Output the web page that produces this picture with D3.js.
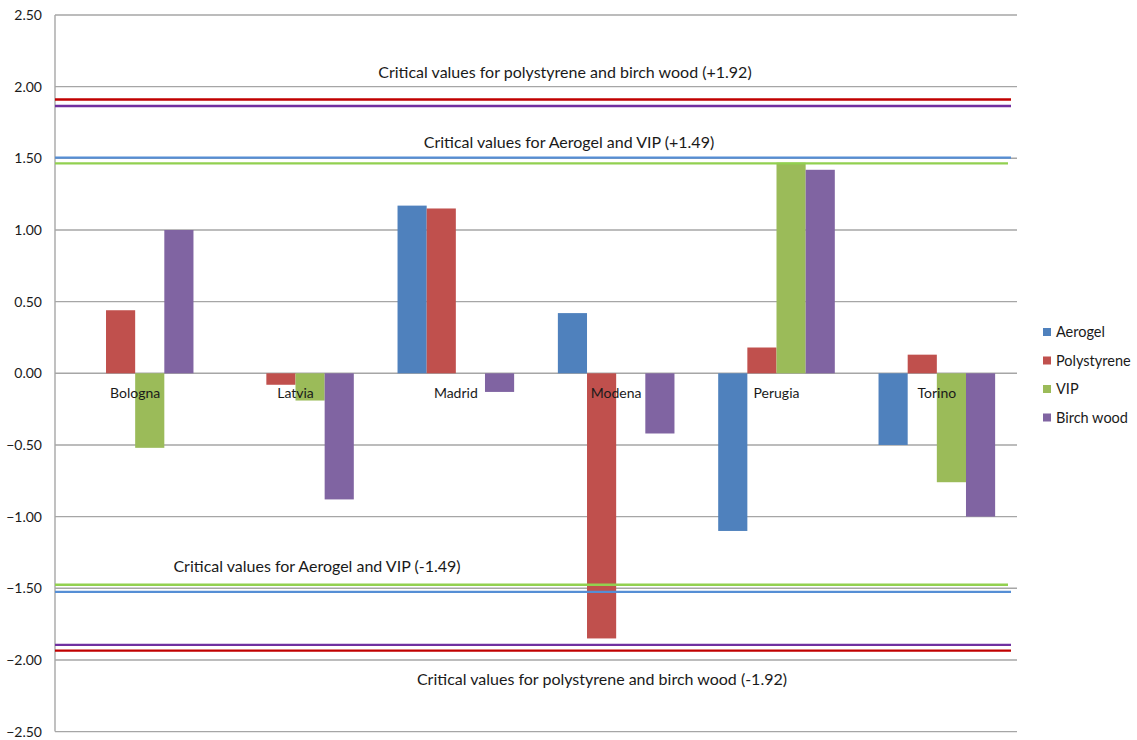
<!DOCTYPE html>
<html>
<head>
<meta charset="utf-8">
<script src="https://cdn.jsdelivr.net/npm/d3@7"></script>
<style>
  body { margin: 0; background: #fff; }
  svg text { font-family: Lato, "Open Sans", sans-serif; fill: #1a1a1a; }
</style>
</head>
<body>
<svg id="chart" width="1137" height="740"></svg>
<script>
// ---- Data ----
const categories = ["Bologna", "Latvia", "Madrid", "Modena", "Perugia", "Torino"];
const seriesNames = ["Aerogel", "Polystyrene", "VIP", "Birch wood"];
const aerogel     = [null, null, 1.17, 0.42, -1.10, -0.50];
const polystyrene = [0.44, -0.08, 1.15, -1.85, 0.18, 0.13];
const vip         = [-0.52, -0.19, null, null, 1.47, -0.76];
const birchWood   = [1.00, -0.88, -0.13, -0.42, 1.42, -1.00];
const yTicks = [2.5, 2.0, 1.5, 1.0, 0.5, 0, -0.5, -1.0, -1.5, -2.0, -2.5];

// critical lines (drawn slightly apart like the original)
const criticalNames  = ["Polystyrene", "Birch wood", "Aerogel", "VIP"];
const criticalUpper  = [1.91, 1.865, 1.505, 1.465];
const criticalLower  = [-1.935, -1.895, -1.525, -1.475];
const criticalLabels = [
  "Critical values for polystyrene and birch wood (+1.92)",
  "Critical values for Aerogel and VIP (+1.49)",
  "Critical values for Aerogel and VIP (-1.49)",
  "Critical values for polystyrene and birch wood (-1.92)"
];

const barColors  = ["#4F81BD", "#C0504D", "#9BBB59", "#8064A2"];
const lineColors = { "Polystyrene": "#C00000", "Birch wood": "#7030A0", "Aerogel": "#558ED5", "VIP": "#92D050" };

const series = [aerogel, polystyrene, vip, birchWood];

// ---- Scales ----
const svg = d3.select("#chart");
const plotLeft = 55, plotRight = 1017, plotTop = 15, plotBottom = 731.6;

const x = d3.scaleBand().domain(categories).range([plotLeft, plotRight]);
const xs = d3.scaleBand().domain(seriesNames).range([0, x.bandwidth()])
  .paddingInner(0).paddingOuter(0.75);
const y = d3.scaleLinear().domain([-2.5, 2.5]).range([plotBottom, plotTop]);

// ---- Gridlines + axis ----
svg.append("g")
  .selectAll("line")
  .data(yTicks)
  .join("line")
  .attr("x1", plotLeft).attr("x2", plotRight)
  .attr("y1", d => y(d)).attr("y2", d => y(d))
  .attr("stroke", "#a6a6a6").attr("stroke-width", 1.4);

svg.append("line")
  .attr("x1", plotLeft).attr("x2", plotLeft)
  .attr("y1", y(2.5)).attr("y2", y(-2.5))
  .attr("stroke", "#a6a6a6").attr("stroke-width", 1.4);

svg.append("g")
  .selectAll("text")
  .data(yTicks)
  .join("text")
  .attr("x", 42).attr("y", d => y(d))
  .attr("dy", "0.35em")
  .attr("text-anchor", "end")
  .attr("font-size", 14)
  .text(d => d3.format(".2f")(d));

// ---- Bars ----
const barData = [];
categories.forEach((c, i) => {
  seriesNames.forEach((s, j) => {
    const v = series[j][i];
    if (v !== null) barData.push({ cat: c, s, j, v });
  });
});

svg.append("g")
  .selectAll("rect")
  .data(barData)
  .join("rect")
  .attr("x", d => x(d.cat) + xs(d.s))
  .attr("width", xs.bandwidth())
  .attr("y", d => y(Math.max(0, d.v)))
  .attr("height", d => Math.abs(y(d.v) - y(0)))
  .attr("fill", d => barColors[d.j]);

// ---- Category labels (over bars, like Excel) ----
svg.append("g")
  .selectAll("text")
  .data(categories)
  .join("text")
  .attr("x", d => x(d) + x.bandwidth() / 2)
  .attr("y", y(0) + 25)
  .attr("text-anchor", "middle")
  .attr("font-size", 14)
  .text(d => d);

// ---- Critical value lines ----
const lineEnd = plotRight - 6;
const drawCritical = (vals) => {
  svg.append("g")
    .selectAll("line")
    .data(vals.map((v, i) => ({ v, name: criticalNames[i] })))
    .join("line")
    .attr("x1", plotLeft).attr("x2", d => d.name === "VIP" ? lineEnd - 3 : lineEnd)
    .attr("y1", d => y(d.v)).attr("y2", d => y(d.v))
    .attr("stroke", d => lineColors[d.name])
    .attr("stroke-width", 2.4);
};
drawCritical(criticalUpper);
drawCritical(criticalLower);

// labels for the critical values
const labelPos = [[565, 78], [569, 148], [317, 572], [602, 685]];
svg.append("g")
  .selectAll("text")
  .data(criticalLabels)
  .join("text")
  .attr("x", (d, i) => labelPos[i][0])
  .attr("y", (d, i) => labelPos[i][1])
  .attr("text-anchor", "middle")
  .attr("font-size", 16)
  .text(d => d);

// ---- Legend ----
const legend = svg.append("g").attr("transform", "translate(1043, 332)");
const items = legend.selectAll("g")
  .data(seriesNames)
  .join("g")
  .attr("transform", (d, i) => `translate(0, ${i * 28.5})`);
items.append("rect")
  .attr("x", 0).attr("y", -4).attr("width", 8).attr("height", 8)
  .attr("fill", (d, i) => barColors[i]);
items.append("text")
  .attr("x", 13).attr("dy", "0.35em")
  .attr("font-size", 14.5)
  .text(d => d);
</script>
</body>
</html>
